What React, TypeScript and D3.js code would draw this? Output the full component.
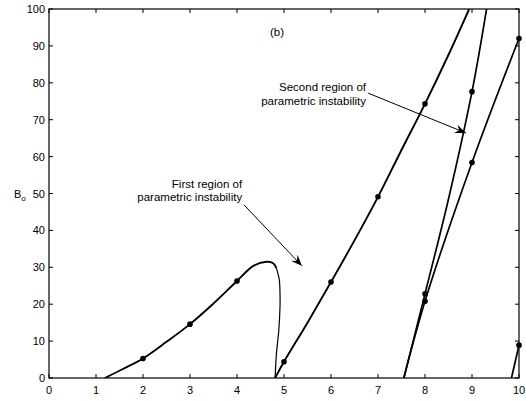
import React from "react";
import * as d3 from "d3";

// stability boundaries: [frequency, B_o]
const firstLeftRise: [number, number][] = [
  [1.19, 0], [1.55, 2.3], [2, 5.3], [2.5, 9.8], [3, 14.6], [3.5, 20.2],
  [4, 26.3], [4.35, 30.4], [4.64, 31.5], [4.77, 31.1], [4.84, 29.7],
];
const firstLeftFold: [number, number][] = [
  [4.84, 29.7], [4.9, 26.6], [4.915, 23], [4.915, 19.3], [4.89, 13],
  [4.84, 6.7], [4.81, 0],
];
const firstRight: [number, number][] = [
  [4.81, 0], [5, 4.4], [5.5, 15], [6, 26], [6.5, 37.3], [7, 49.1],
  [7.5, 61.8], [8, 74.3], [8.5, 87.6], [8.94, 100],
];
const secondLeft: [number, number][] = [
  [7.55, 0], [8, 22.8], [8.5, 48.5], [9, 77.6], [9.31, 100],
];
const secondRight: [number, number][] = [
  [7.55, 0], [8, 20.8], [9, 58.4], [10, 92],
];
const thirdLeft: [number, number][] = [[9.84, 0], [10, 8.9]];

// computed points (markers)
const markers: [number, number][] = [
  [2, 5.3], [3, 14.6], [4, 26.3],
  [5, 4.4], [6, 26], [7, 49.1], [8, 74.3],
  [8, 22.8], [9, 77.6],
  [8, 20.8], [9, 58.4], [10, 92],
  [10, 8.9],
];

const xTicks = [0, 1, 2, 3, 4, 5, 6, 7, 8, 9, 10];
const yTicks = [0, 10, 20, 30, 40, 50, 60, 70, 80, 90, 100];

const W = 526;
const H = 401;
const margin = { top: 9, right: 7, bottom: 23, left: 49 };
const font = "'Liberation Sans', Arial, Helvetica, sans-serif";

const x = d3.scaleLinear().domain([0, 10]).range([margin.left, W - margin.right]);
const y = d3.scaleLinear().domain([0, 100]).range([H - margin.bottom, margin.top]);

const line = d3
  .line<[number, number]>()
  .x((d) => x(d[0]))
  .y((d) => y(d[1]))
  .curve(d3.curveCatmullRom.alpha(0.5));

// arrow head like matlab's "vback2"
function arrowHead(x1: number, y1: number, x2: number, y2: number) {
  const a = Math.atan2(y2 - y1, x2 - x1);
  const L = 11;
  const hw = 4.5;
  const pt = (along: number, side: number) => [
    x2 - along * Math.cos(a) - side * Math.sin(a),
    y2 - along * Math.sin(a) + side * Math.cos(a),
  ];
  const p = [[x2, y2], pt(L, hw), pt(L * 0.65, 0), pt(L, -hw)];
  return "M" + p.map((q) => q.join(",")).join("L") + "Z";
}

const Arrow = ({ from, to }: { from: [number, number]; to: [number, number] }) => {
  const x1 = x(from[0]);
  const y1 = y(from[1]);
  const x2 = x(to[0]);
  const y2 = y(to[1]);
  return (
    <g>
      <line x1={x1} y1={y1} x2={x2} y2={y2} stroke="#000" strokeWidth={1} />
      <path d={arrowHead(x1, y1, x2, y2)} fill="#000" />
    </g>
  );
};

export default function App() {
  const x0 = margin.left;
  const x1 = W - margin.right;
  const y0 = H - margin.bottom;
  const y1 = margin.top;
  const tl = 4;

  return (
    <svg
      width={W}
      height={H}
      style={{ position: "absolute", left: 0, top: 0, background: "#fff" }}
      fontFamily={font}
    >
      <defs>
        <clipPath id="plot">
          <rect x={x0} y={y1} width={x1 - x0} height={y0 - y1} />
        </clipPath>
      </defs>

      {/* curves */}
      <g clipPath="url(#plot)" fill="none" stroke="#000" strokeLinejoin="round">
        <path d={line(firstLeftRise) ?? ""} strokeWidth={1.9} />
        <path d={line(firstLeftFold) ?? ""} strokeWidth={1.2} />
        <path d={line(firstRight) ?? ""} strokeWidth={1.9} />
        <path d={line(secondLeft) ?? ""} strokeWidth={1.7} />
        <path d={line(secondRight) ?? ""} strokeWidth={1.7} />
        <path d={line(thirdLeft) ?? ""} strokeWidth={1.7} />
      </g>
      <g fill="#000">
        {markers.map((d, i) => (
          <circle key={i} cx={x(d[0])} cy={y(d[1])} r={2.8} />
        ))}
      </g>

      {/* box + ticks */}
      <rect x={x0} y={y1} width={x1 - x0} height={y0 - y1} fill="none" stroke="#000" strokeWidth={1.2} />
      <g stroke="#000" strokeWidth={1}>
        {xTicks.map((t) => (
          <g key={"x" + t}>
            <line x1={x(t)} x2={x(t)} y1={y0} y2={y0 - tl} />
            <line x1={x(t)} x2={x(t)} y1={y1} y2={y1 + tl} />
          </g>
        ))}
        {yTicks.map((t) => (
          <g key={"y" + t}>
            <line x1={x0} x2={x0 + tl} y1={y(t)} y2={y(t)} />
            <line x1={x1} x2={x1 - tl} y1={y(t)} y2={y(t)} />
          </g>
        ))}
      </g>
      <g fontSize={11} fill="#000">
        {xTicks.map((t) => (
          <text key={"xl" + t} x={x(t)} y={y0 + 15.5} textAnchor="middle">
            {t}
          </text>
        ))}
        {yTicks.map((t) => (
          <text key={"yl" + t} x={x0 - 4} y={y(t) + 4} textAnchor="end">
            {t}
          </text>
        ))}
      </g>

      {/* axis labels */}
      <text x={14} y={y(50) + 4} fontSize={11}>
        B<tspan fontSize={8} dy={3}>o</tspan>
      </text>
      <text x={(x0 + x1) / 2} y={H + 8} fontSize={11} textAnchor="middle">
        Ω
      </text>

      {/* annotations */}
      <text x={x(4.85)} y={y(92.7)} fontSize={11.5} textAnchor="middle">
        (b)
      </text>
      <g fontSize={11.5} textAnchor="end">
        <text x={x(4.11)} y={y(51.5)}>First region of</text>
        <text x={x(4.11)} y={y(48)}>parametric instability</text>
        <text x={x(6.745)} y={y(77.8)}>Second region of</text>
        <text x={x(6.745)} y={y(74.1)}>parametric instability</text>
      </g>
      <Arrow from={[4.15, 46.9]} to={[5.38, 30.4]} />
      <Arrow from={[6.79, 77.2]} to={[8.87, 66.4]} />
    </svg>
  );
}
